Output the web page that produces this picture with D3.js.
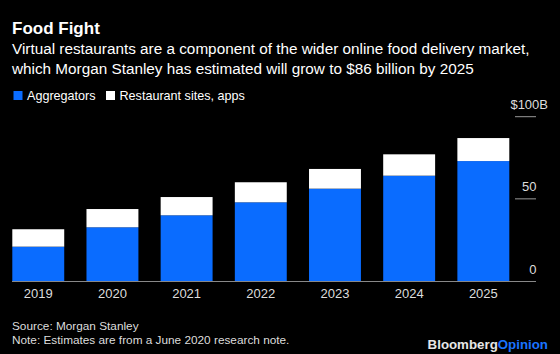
<!DOCTYPE html>
<html>
<head>
<meta charset="utf-8">
<script src="https://cdn.jsdelivr.net/npm/d3@7"></script>
<style>
  body { margin: 0; background: #000; }
  svg { display: block; font-family: "Liberation Sans", Arial, sans-serif; }
</style>
</head>
<body>
<div id="chart"></div>
<script>
// data
const years = ["2019", "2020", "2021", "2022", "2023", "2024", "2025"]
const aggregators = [20.9, 32.7, 40.0, 47.9, 56.2, 64.1, 73.0]
const restaurantSites = [10.6, 11.1, 11.1, 12.2, 12.0, 13.0, 14.0]
const seriesNames = ["Aggregators", "Restaurant sites, apps"]
const yTicks = [0, 50, 100]

const width = 560
const height = 354
const blue = "#0a6cff"

const svg = d3.select("#chart").append("svg")
    .attr("width", width)
    .attr("height", height)

svg.append("rect").attr("width", width).attr("height", height).attr("fill", "#000")

// title + subtitle
svg.append("text")
    .attr("x", 12).attr("y", 34)
    .attr("fill", "#fff")
    .style("font-size", "17px").style("font-weight", "bold")
    .text("Food Fight")

const sub = [
  "Virtual restaurants are a component of the wider online food delivery market,",
  "which Morgan Stanley has estimated will grow to $86 billion by 2025"
]
sub.forEach((s, i) => {
  svg.append("text")
      .attr("x", 12).attr("y", 54 + i * 19.5)
      .attr("fill", "#fff")
      .style("font-size", "15.3px")
      .text(s)
})

// legend
const legendX = [13.5, 106]
seriesNames.forEach((name, i) => {
  svg.append("rect")
      .attr("x", legendX[i]).attr("y", 91)
      .attr("width", 9).attr("height", 9)
      .attr("fill", i == 0 ? blue : "#fff")
  svg.append("text")
      .attr("x", legendX[i] + 13.5).attr("y", 100)
      .attr("fill", "#fff")
      .style("font-size", "12.6px")
      .text(name)
})

// scales
const x = d3.scaleBand()
    .domain(years)
    .range([12.3, 509.3])
    .paddingInner(0.3)
    .paddingOuter(0)

const y = d3.scaleLinear()
    .domain([0, 100])
    .range([281, 116.7])

// y gridlines at right
const yAxis = svg.append("g")
yTicks.forEach(t => {
  if (t > 0) {
    yAxis.append("line")
        .attr("x1", 515).attr("x2", 536)
        .attr("y1", y(t)).attr("y2", y(t))
        .attr("stroke", "#999").attr("stroke-width", 1)
  }
  yAxis.append("text")
      .attr("x", t == 100 ? 548 : 536.5)
      .attr("y", y(t) - 7.5)
      .attr("text-anchor", "end")
      .attr("fill", "#ddd")
      .style("font-size", "13px")
      .text(t == 100 ? "$" + t + "B" : t)
})

// stacked bars
const rows = years.map((yr, i) => ({ year: yr, agg: aggregators[i], rest: restaurantSites[i] }))
const stack = d3.stack().keys(["agg", "rest"])(rows)
const colors = [blue, "#fff"]

stack.forEach((layer, li) => {
  svg.append("g").selectAll("rect")
    .data(layer)
    .join("rect")
      .attr("x", d => x(d.data.year))
      .attr("width", x.bandwidth())
      .attr("y", d => y(d[1]))
      .attr("height", d => y(d[0]) - y(d[1]))
      .attr("fill", colors[li])
})

// baseline
svg.append("line")
    .attr("x1", 12).attr("x2", 536)
    .attr("y1", y(0) + 0.5).attr("y2", y(0) + 0.5)
    .attr("stroke", "#888").attr("stroke-width", 1)

// x labels
svg.append("g").selectAll("text")
  .data(years)
  .join("text")
    .attr("x", d => x(d) + x.bandwidth() / 2)
    .attr("y", 298)
    .attr("text-anchor", "middle")
    .attr("fill", "#ddd")
    .style("font-size", "13px")
    .text(d => d)

// footer
svg.append("text")
    .attr("x", 12).attr("y", 330)
    .attr("fill", "#ddd")
    .style("font-size", "11.8px")
    .text("Source: Morgan Stanley")
svg.append("text")
    .attr("x", 12).attr("y", 343.5)
    .attr("fill", "#ddd")
    .style("font-size", "11.8px")
    .text("Note: Estimates are from a June 2020 research note.")

const brand = svg.append("text")
    .attr("x", 548).attr("y", 349)
    .attr("text-anchor", "end")
    .style("font-size", "13.3px").style("font-weight", "bold")
brand.append("tspan").attr("fill", "#e6e6e6").text("Bloomberg")
brand.append("tspan").attr("fill", "#1a73ff").text("Opinion")
</script>
</body>
</html>
